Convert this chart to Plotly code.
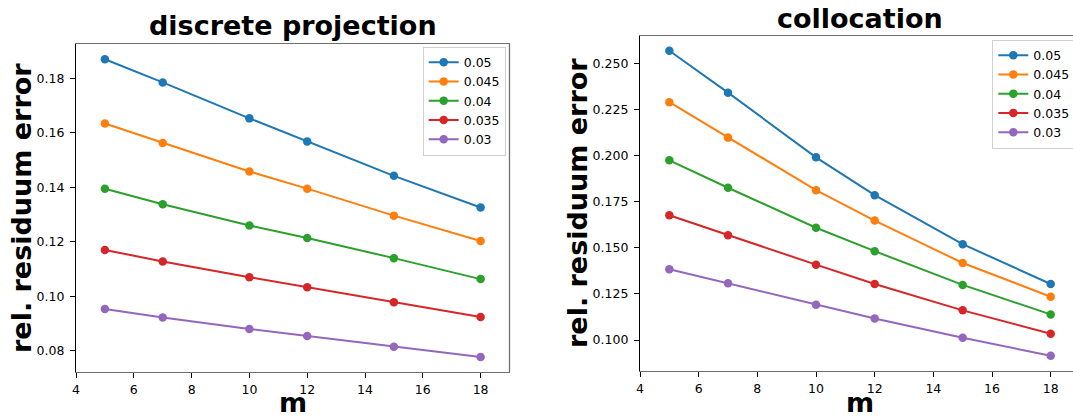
import plotly.graph_objects as go

# ---------------- data ----------------
m_values = [5, 7, 10, 12, 15, 18]
series_names = ["0.05", "0.045", "0.04", "0.035", "0.03"]
series_colors = ["#1f77b4", "#ff7f0e", "#2ca02c", "#d62728", "#9467bd"]

# discrete projection
dp_005 = [0.1870, 0.1785, 0.1653, 0.1568, 0.1442, 0.1326]
dp_0045 = [0.1634, 0.1563, 0.1458, 0.1395, 0.1296, 0.1203]
dp_004 = [0.1395, 0.1338, 0.1260, 0.1214, 0.1140, 0.1063]
dp_0035 = [0.1170, 0.1128, 0.1070, 0.1033, 0.0978, 0.0924]
dp_003 = [0.0953, 0.0922, 0.0880, 0.0854, 0.0815, 0.0777]

# collocation
co_005 = [0.2569, 0.2342, 0.1991, 0.1786, 0.1520, 0.1304]
co_0045 = [0.2290, 0.2098, 0.1813, 0.1648, 0.1418, 0.1235]
co_004 = [0.1975, 0.1826, 0.1609, 0.1482, 0.1299, 0.1139]
co_0035 = [0.1677, 0.1569, 0.1409, 0.1304, 0.1161, 0.1034]
co_003 = [0.1384, 0.1308, 0.1192, 0.1117, 0.1012, 0.0915]

x_ticks = [4, 6, 8, 10, 12, 14, 16, 18]
left_y_ticks = [0.08, 0.10, 0.12, 0.14, 0.16, 0.18]
right_y_ticks = [0.100, 0.125, 0.150, 0.175, 0.200, 0.225, 0.250]

titles = ["discrete projection", "collocation"]
x_label = "m"
y_label = "rel. residuum error"

dp_series = [dp_005, dp_0045, dp_004, dp_0035, dp_003]
co_series = [co_005, co_0045, co_004, co_0035, co_003]

# ---------------- figure ----------------
W, H = 1073, 419
FONT = "DejaVu Sans"

fig = go.Figure()

for name, col, ys in zip(series_names, series_colors, dp_series):
    fig.add_trace(go.Scatter(
        x=m_values, y=ys, name=name, mode="lines+markers",
        line=dict(color=col, width=2), marker=dict(color=col, size=8.5),
        xaxis="x", yaxis="y", legend="legend"))

for name, col, ys in zip(series_names, series_colors, co_series):
    fig.add_trace(go.Scatter(
        x=m_values, y=ys, name=name, mode="lines+markers",
        line=dict(color=col, width=2), marker=dict(color=col, size=8.5),
        xaxis="x2", yaxis="y2", legend="legend2"))

# pixel geometry -> paper coords
def px(xp):
    return xp / W

def py(yp):
    return 1 - yp / H

left_dom_x = [px(76), px(509.5)]
left_dom_y = [py(372), py(44)]
right_dom_x = [px(640), 1.0]
right_dom_y = [py(371), py(35.5)]

# right axes: 4 at 640px, 18 at 1050.7px -> visible right edge at 1073
right_xmax = 4 + (1073 - 640) / ((1050.7 - 640) / 14)

tickfont = dict(family=FONT, size=12.5, color="black")
gray = "#6f6f6f"

common_x = dict(showgrid=False, zeroline=False, ticks="outside", ticklen=5,
                tickcolor="black", tickfont=tickfont, tickvals=x_ticks,
                showline=True, linecolor=gray, linewidth=1.3, mirror=True,
                automargin=False, ticklabelstandoff=1)
common_y = dict(showgrid=False, zeroline=False, ticks="outside", ticklen=5,
                tickcolor="black", tickfont=tickfont, showline=True,
                linecolor="black", linewidth=1.2, automargin=False,
                ticklabelstandoff=3)
fig.update_layout(
    xaxis=dict(domain=left_dom_x, range=[4, 19], anchor="y", **common_x),
    yaxis=dict(domain=left_dom_y, range=[0.0722, 0.1926], anchor="x",
               tickvals=left_y_ticks, tickformat=".2f", **common_y),
    xaxis2=dict(domain=right_dom_x, range=[4, right_xmax], anchor="y2", **common_x),
    yaxis2=dict(domain=right_dom_y, range=[0.0832, 0.2652], anchor="x2",
                tickvals=right_y_ticks, tickformat=".3f", **common_y),
)

# right spine for the left panel (gray, like top/bottom)
fig.add_shape(type="line", xref="x domain", yref="y domain",
              x0=1, x1=1, y0=0, y1=1, line=dict(color=gray, width=1.3))

legend_common = dict(font=dict(family=FONT, size=12.5, color="black"),
                     bgcolor="rgba(255,255,255,0.8)", bordercolor="#d0d0d0",
                     borderwidth=1, xanchor="left", yanchor="top",
                     traceorder="normal", itemwidth=30)
fig.update_layout(
    legend=dict(x=px(422.7), y=py(46.5), **legend_common),
    legend2=dict(x=px(992.3), y=py(39.5), **legend_common),
)

bold = dict(family=FONT, size=27, color="black", weight="bold")
ann = []
# titles
ann.append(dict(text=titles[0], x=px(292.7), y=py(26), xref="paper", yref="paper",
                xanchor="center", yanchor="middle", showarrow=False, font=bold))
ann.append(dict(text=titles[1], x=px(860), y=py(18), xref="paper", yref="paper",
                xanchor="center", yanchor="middle", showarrow=False, font=bold))
# x labels (sit on the bottom edge of the figure)
ann.append(dict(text=x_label, x=px(292.7), y=0, xref="paper", yref="paper",
                xanchor="center", yanchor="bottom", showarrow=False, font=bold,
                borderpad=0))
ann.append(dict(text=x_label, x=px(860), y=0, xref="paper", yref="paper",
                xanchor="center", yanchor="bottom", showarrow=False, font=bold,
                borderpad=0))
# y labels
ann.append(dict(text=y_label, x=px(21), y=py(208), xref="paper", yref="paper",
                xanchor="center", yanchor="middle", showarrow=False, font=bold,
                textangle=-90))
ann.append(dict(text=y_label, x=px(578), y=py(203), xref="paper", yref="paper",
                xanchor="center", yanchor="middle", showarrow=False, font=bold,
                textangle=-90))
fig.update_layout(annotations=ann)

fig.update_layout(
    template="none",
    width=W, height=H,
    margin=dict(l=0, r=0, t=0, b=0, pad=0, autoexpand=False),
    paper_bgcolor="white", plot_bgcolor="white",
    font=dict(family=FONT, color="black"),
    showlegend=True,
)

fig.write_html("out.html")
